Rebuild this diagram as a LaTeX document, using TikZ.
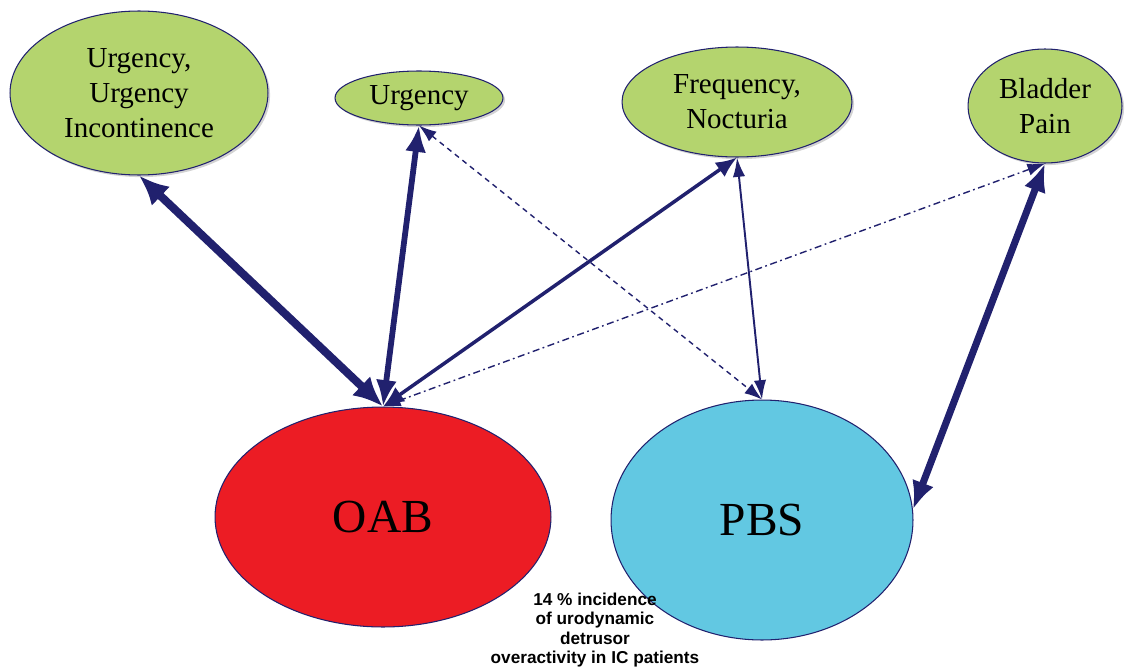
\documentclass[tikz,border=0pt]{standalone}
\usepackage{fontspec}
\setmainfont{Liberation Serif}
\newfontfamily\notefont{Liberation Sans}
\usetikzlibrary{shapes.geometric,arrows.meta,shadows}

\definecolor{leafgreen}{RGB}{180,212,110}
\definecolor{oabred}{RGB}{236,28,36}
\definecolor{pbscyan}{RGB}{98,200,226}
\definecolor{linknavy}{RGB}{33,33,110}

\tikzset{
  symptom/.style={ellipse, draw=linknavy, line width=0.6pt, fill=leafgreen,
    inner sep=0pt, align=center, font=\fontsize{16.5}{20}\selectfont,
    drop shadow={shadow xshift=1.2pt, shadow yshift=-1.2pt, opacity=0.35}},
  syndrome/.style={ellipse, draw=linknavy, line width=0.6pt, inner sep=0pt,
    font=\fontsize{27}{30}\selectfont},
  link/.style={draw=linknavy},
}

\begin{document}
\begin{tikzpicture}[x=0.02cm,y=-0.02cm]
  \useasboundingbox (0,0) rectangle (1125,666);

  % symptoms
  \node[symptom, minimum width=5.16cm, minimum height=3.28cm] (uui) at (139,93)
    {Urgency,\\Urgency\\Incontinence};
  \node[symptom, minimum width=3.36cm, minimum height=1.08cm] (urg) at (419,98) {Urgency};
  \node[symptom, minimum width=4.6cm, minimum height=2.2cm] (freq) at (737,102)
    {Frequency,\\Nocturia};
  \node[symptom, minimum width=3.08cm, minimum height=2.28cm] (pain) at (1045,106)
    {Bladder\\Pain};

  % syndromes
  \node[syndrome, fill=oabred, minimum width=6.72cm, minimum height=4.4cm] (oab) at (383,517) {OAB};
  \node[syndrome, fill=pbscyan, minimum width=6.04cm, minimum height=4.8cm] (pbs) at (762,520) {PBS};

  \node[font=\notefont\bfseries\fontsize{9.8}{11}\selectfont, align=center] (note) at (595,630)
    {14 \% incidence\\of urodynamic\\detrusor\\overactivity in IC patients};

  % links
  \draw[link, line width=4.6pt, {Latex[length=17pt,width=15pt]}-{Latex[length=17pt,width=15pt]}]
    (uui.south) -- (oab.north);
  \draw[link, line width=3.3pt, {Latex[length=15pt,width=12pt]}-{Latex[length=15pt,width=12pt]}]
    (urg.south) -- (oab.north);
  \draw[link, line width=2pt, {Latex[length=12pt,width=10pt]}-{Latex[length=12pt,width=10pt]}]
    (freq.south) -- (oab.north);
  \draw[link, line width=1.1pt, {Latex[length=11pt,width=7pt]}-{Latex[length=11pt,width=7pt]}]
    (freq.south) -- (pbs.north);
  \draw[link, line width=0.8pt, dash pattern=on 3pt off 2.5pt,
    {Latex[length=10pt,width=7pt]}-{Latex[length=10pt,width=7pt]}]
    (urg.south) -- (pbs.north);
  \draw[link, line width=0.8pt, dash pattern=on 4pt off 2pt on 1pt off 2pt,
    {Latex[length=10pt,width=7pt]}-{Latex[length=10pt,width=7pt]}]
    (pain.south) -- (oab.north);
  \draw[link, line width=4pt, {Latex[length=16pt,width=13pt]}-{Latex[length=16pt,width=13pt]}]
    (pain.south) -- (pbs.4);
\end{tikzpicture}
\end{document}
